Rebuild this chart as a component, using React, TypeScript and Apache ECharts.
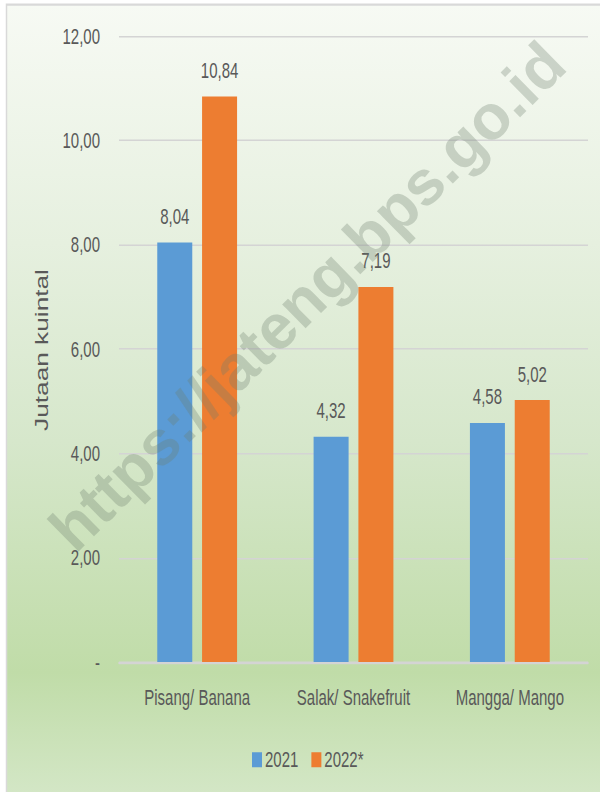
import React, { useEffect, useRef } from "react";
import * as echarts from "echarts";

const categories = ["Pisang/ Banana", "Salak/ Snakefruit", "Mangga/ Mango"];
const seriesNames = ["2021", "2022*"];
const values2021 = [8.04, 4.32, 4.58];
const values2022 = [10.84, 7.19, 5.02];
const yTicks = { min: 0, max: 12, interval: 2 };
const axisTitle = "Jutaan kuintal";
const watermark = "https://jateng.bps.go.id";

// The reference picture is stretched vertically; the chart is drawn at 1/SY height and stretched with CSS.
const SY = 1.5;
const W = 600;
const H = 792;

const FONT = '"Liberation Sans", Arial, sans-serif';
const TEXT = "#595959";

const fmt = (v: number) => (v === 0 ? "-" : v.toFixed(2).replace(".", ","));

export default function App() {
  const ref = useRef<HTMLDivElement>(null);
  const wmRef = useRef<HTMLDivElement>(null);
  useEffect(() => {
    if (!ref.current || !wmRef.current) return;
    const chart = echarts.init(ref.current, undefined, { renderer: "svg" });
    const labelStyle = {
      show: true,
      position: "top" as const,
      distance: 10,
      fontFamily: FONT,
      fontSize: 15,
      color: TEXT,
      formatter: (p: any) => fmt(p.value),
    };
    chart.setOption({
      animation: false,
      backgroundColor: "#ffffff",
      graphic: [
        {
          type: "rect",
          z: -10,
          silent: true,
          shape: { x: 6.5, y: 3, width: 600, height: 530 },
          style: {
            fill: new echarts.graphic.LinearGradient(0, 0, 0, 1, [
              { offset: 0, color: "#f7faf4" },
              { offset: 0.3, color: "#e6f0df" },
              { offset: 0.55, color: "#d6e7cb" },
              { offset: 0.84, color: "#c0dca8" },
              { offset: 1, color: "#d4e7c7" },
            ]),
            stroke: "#d9d9d9",
            lineWidth: 1.5,
          },
        },
        {
          type: "text",
          z: 50,
          x: 42,
          y: 350 / SY,
          rotation: Math.PI / 2,
          style: {
            text: axisTitle,
            font: '17.5px "Liberation Sans", Arial, sans-serif',
            fill: TEXT,
            align: "center",
            verticalAlign: "middle",
          },
        },
      ],
      grid: { left: 119, right: 12, top: 36 / SY, bottom: (H - 662) / SY },
      legend: {
        left: 247,
        top: 753 / SY - 8,
        itemWidth: 10,
        itemHeight: 10,
        itemGap: 13,
        icon: "rect",
        textStyle: { fontFamily: FONT, fontSize: 15, color: TEXT, padding: [0, 0, 0, -2] },
        data: seriesNames,
      },
      xAxis: {
        type: "category",
        data: categories,
        axisLine: { lineStyle: { color: "#d4d4d4", width: 1.5 } },
        axisTick: { show: false },
        axisLabel: { fontFamily: FONT, fontSize: 15, color: TEXT, margin: 16, interval: 0 },
      },
      yAxis: {
        type: "value",
        min: yTicks.min,
        max: yTicks.max,
        interval: yTicks.interval,
        axisLine: { show: false },
        axisTick: { show: false },
        splitLine: { lineStyle: { color: "#d4d4d4", width: 1 } },
        axisLabel: {
          fontFamily: FONT,
          fontSize: 15,
          color: TEXT,
          margin: 19,
          formatter: (v: number) => fmt(v),
        },
      },
      series: [
        {
          name: seriesNames[0],
          type: "bar",
          data: values2021,
          barWidth: 35,
          barGap: "28%",
          itemStyle: { color: "#5b9bd5" },
          label: labelStyle,
        },
        {
          name: seriesNames[1],
          type: "bar",
          data: values2022,
          barWidth: 35,
          itemStyle: { color: "#ed7d31" },
          label: labelStyle,
        },
      ],
    });

    const wm = echarts.init(wmRef.current, undefined, { renderer: "svg" });
    wm.setOption({
      animation: false,
      graphic: [
        {
          type: "text",
          silent: true,
          x: 307,
          y: 296,
          rotation: (44.5 * Math.PI) / 180,
          style: {
            text: watermark,
            font: 'bold 63px "Liberation Sans", Arial, sans-serif',
            fill: "rgba(110,125,110,0.3)",
            align: "center",
            verticalAlign: "middle",
          },
        },
      ],
    });
    return () => {
      chart.dispose();
      wm.dispose();
    };
  }, []);
  return (
    <div style={{ position: "absolute", left: 0, top: 0, width: W, height: H, overflow: "hidden" }}>
      <div
        ref={ref}
        style={{
          position: "absolute",
          left: 0,
          top: 0,
          width: W,
          height: H / SY,
          transform: `scaleY(${SY})`,
          transformOrigin: "0 0",
        }}
      />
      <div
        ref={wmRef}
        style={{ position: "absolute", left: 0, top: 0, width: W, height: H, pointerEvents: "none" }}
      />
    </div>
  );
}
